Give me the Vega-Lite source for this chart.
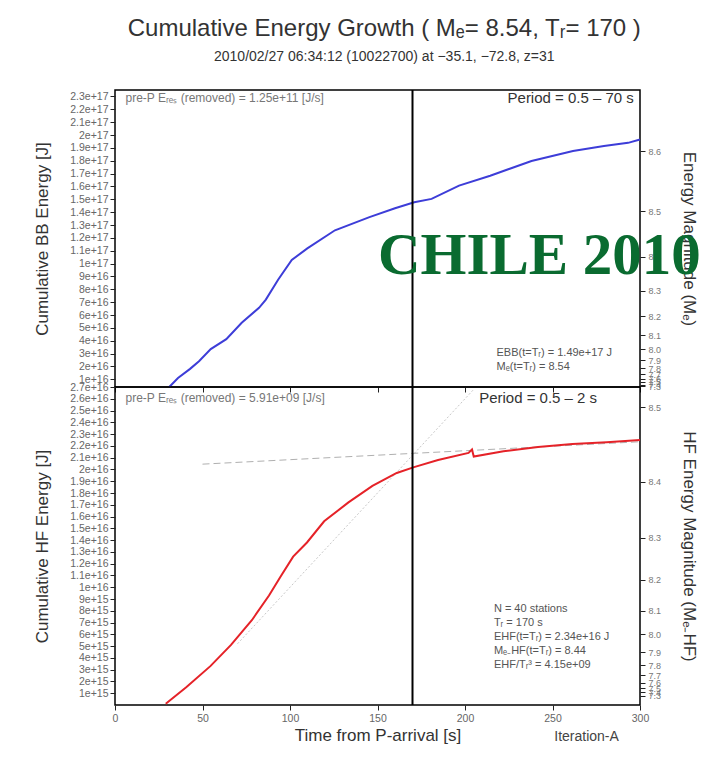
{
  "$schema": "https://vega.github.io/schema/vega-lite/v6.json",
  "padding": {"left": 33, "top": 17, "right": 5, "bottom": 5},
  "background": "white",
  "title": {
    "text": "Cumulative Energy Growth ( Mₑ= 8.54, Tᵣ= 170 )",
    "subtitle": "2010/02/27 06:34:12 (10022700) at −35.1, −72.8, z=31",
    "anchor": "middle",
    "dx": 17,
    "font": "Liberation Sans",
    "fontSize": 24,
    "fontWeight": "normal",
    "color": "#333333",
    "subtitleFont": "Liberation Sans",
    "subtitleFontSize": 14,
    "subtitleColor": "#333333",
    "subtitlePadding": 9,
    "offset": 24
  },
  "datasets": {
    "bb": [
      {"t": 31, "E": 4.0e15},
      {"t": 36, "E": 1.1e16},
      {"t": 42.9, "E": 1.81e16},
      {"t": 48, "E": 2.4e16},
      {"t": 54.7, "E": 3.35e16},
      {"t": 63.6, "E": 4.12e16},
      {"t": 72.4, "E": 5.4e16},
      {"t": 82.3, "E": 6.56e16},
      {"t": 86.2, "E": 7.2e16},
      {"t": 93.2, "E": 8.74e16},
      {"t": 101.0, "E": 1.028e17},
      {"t": 109.9, "E": 1.118e17},
      {"t": 125.7, "E": 1.259e17},
      {"t": 145.4, "E": 1.361e17},
      {"t": 160, "E": 1.43e17},
      {"t": 171.0, "E": 1.477e17},
      {"t": 180.9, "E": 1.503e17},
      {"t": 196.6, "E": 1.606e17},
      {"t": 214.4, "E": 1.683e17},
      {"t": 238.0, "E": 1.798e17},
      {"t": 261.7, "E": 1.875e17},
      {"t": 279.4, "E": 1.914e17},
      {"t": 293.2, "E": 1.939e17},
      {"t": 300, "E": 1.965e17}
    ],
    "hf": [
      {"t": 29, "E": 0.1e15},
      {"t": 40.7, "E": 1.5e15},
      {"t": 54.5, "E": 3.3e15},
      {"t": 66.3, "E": 5.1e15},
      {"t": 78.2, "E": 7.2e15},
      {"t": 88, "E": 9.3e15},
      {"t": 95, "E": 11.0e15},
      {"t": 101.8, "E": 12.6e15},
      {"t": 109.7, "E": 13.8e15},
      {"t": 119.5, "E": 15.6e15},
      {"t": 133.4, "E": 17.2e15},
      {"t": 147.1, "E": 18.6e15},
      {"t": 161, "E": 19.7e15},
      {"t": 170.9, "E": 20.2e15},
      {"t": 184.6, "E": 20.8e15},
      {"t": 202, "E": 21.4e15},
      {"t": 204, "E": 21.7e15},
      {"t": 205, "E": 21.1e15},
      {"t": 222, "E": 21.55e15},
      {"t": 241.7, "E": 21.9e15},
      {"t": 261.4, "E": 22.15e15},
      {"t": 281, "E": 22.3e15},
      {"t": 300, "E": 22.5e15}
    ],
    "hfTrend": [
      {"t": 50, "E": 20.45e15},
      {"t": 300, "E": 22.35e15}
    ],
    "hfDiag": [
      {"t": 70, "E": 5.2e15},
      {"t": 205, "E": 26.8e15}
    ],
    "one": [{}]
  },
  "config": {
    "font": "Liberation Sans",
    "view": {"stroke": "#000000", "strokeWidth": 1.5},
    "axis": {
      "grid": false,
      "domain": false,
      "tickColor": "#222222",
      "tickSize": 5,
      "labelFont": "Liberation Sans",
      "labelFontSize": 10.5,
      "labelColor": "#666666",
      "labelOverlap": false,
      "labelFlush": false,
      "titleFont": "Liberation Sans",
      "titleFontSize": 17,
      "titleFontWeight": "normal",
      "titleColor": "#333333"
    }
  },
  "spacing": 0,
  "bounds": "flush",
  "vconcat": [
    {
      "width": 525,
      "height": 297,
      "resolve": {"axis": {"x": "independent", "y": "independent"}},
      "layer": [
        {
          "data": {"name": "bb"},
          "mark": {"type": "line", "color": "#3d3dd8", "strokeWidth": 2},
          "encoding": {
            "x": {"field": "t", "type": "quantitative",
              "scale": {"domain": [0, 300], "nice": false, "zero": false},
              "axis": {"labels": false, "title": null, "values": [0, 50, 100, 150, 200, 250, 300]}},
            "y": {"field": "E", "type": "quantitative",
              "scale": {"domain": [4e15, 2.35e17], "nice": false, "zero": false},
              "axis": {"orient": "left", "format": "~e", "title": "Cumulative BB Energy [J]", "titlePadding": 18,
                "labelPadding": 2,
                "values": [1e16, 2e16, 3e16, 4e16, 5e16, 6e16, 7e16, 8e16, 9e16, 1e17, 1.1e17, 1.2e17, 1.3e17, 1.4e17, 1.5e17, 1.6e17, 1.7e17, 1.8e17, 1.9e17, 2e17, 2.1e17, 2.2e17, 2.3e17]}}
          }
        },
        {
          "data": {"name": "one"},
          "mark": {"type": "rule", "color": "#000000", "strokeWidth": 2},
          "encoding": {"x": {"datum": 170, "axis": null}}
        },
        {
          "data": {"name": "one"},
          "mark": {"type": "text", "align": "left", "baseline": "middle", "fontSize": 12, "color": "#777777", "text": "pre-P Eᵣₑₛ (removed) = 1.25e+11 [J/s]"},
          "encoding": {"x": {"datum": 6, "axis": null}, "y": {"datum": 2.285e17, "axis": null}}
        },
        {
          "data": {"name": "one"},
          "mark": {"type": "text", "align": "right", "baseline": "middle", "fontSize": 15, "color": "#333333", "text": "Period = 0.5 – 70 s"},
          "encoding": {"x": {"datum": 296.5, "axis": null}, "y": {"datum": 2.285e17, "axis": null}}
        },
        {
          "data": {"name": "one"},
          "mark": {"type": "text", "align": "center", "baseline": "alphabetic", "fontSize": 59, "font": "Liberation Serif", "fontWeight": "bold", "color": "#0a6b30", "text": "CHILE 2010"},
          "encoding": {"x": {"datum": 242.5, "axis": null}, "y": {"datum": 9.2e16, "axis": null}}
        },
        {
          "data": {"name": "one"},
          "mark": {"type": "text", "align": "left", "baseline": "top", "fontSize": 11, "lineHeight": 14, "color": "#555555", "text": ["EBB(t=Tᵣ) = 1.49e+17 J", "Mₑ(t=Tᵣ) = 8.54"]},
          "encoding": {"x": {"datum": 218, "axis": null},
            "y": {"datum": 3.5e16,
              "axis": {"orient": "right", "title": "Energy Magnitude (Mₑ)", "titlePadding": 19, "labelFontSize": 9, "labelColor": "#777777", "labelPadding": 3,
                "values": [1.873e17, 1.405e17, 1.053e17, 7.90e16, 5.92e16, 4.44e16, 3.33e16, 2.50e16, 1.873e16, 1.405e16, 1.053e16, 7.90e15, 5.92e15, 4.44e15],
                "labelExpr": "format(0.8*log(datum.value)/LN10 - 5.218, '.1f')"}}}
        }
      ]
    },
    {
      "width": 525,
      "height": 318,
      "resolve": {"axis": {"x": "independent", "y": "independent"}},
      "layer": [
        {
          "data": {"name": "hfDiag"},
          "mark": {"type": "line", "color": "#c8c8c8", "strokeWidth": 1, "strokeDash": [2, 2]},
          "encoding": {
            "x": {"field": "t", "type": "quantitative", "scale": {"domain": [0, 300], "nice": false, "zero": false}, "axis": null},
            "y": {"field": "E", "type": "quantitative", "scale": {"domain": [0, 2.7e16], "nice": false, "zero": false}, "axis": null}
          }
        },
        {
          "data": {"name": "hfTrend"},
          "mark": {"type": "line", "color": "#b0b0b0", "strokeWidth": 1, "strokeDash": [7, 4]},
          "encoding": {
            "x": {"field": "t", "type": "quantitative", "axis": null},
            "y": {"field": "E", "type": "quantitative", "axis": null}
          }
        },
        {
          "data": {"name": "hf"},
          "mark": {"type": "line", "color": "#e52228", "strokeWidth": 2},
          "encoding": {
            "x": {"field": "t", "type": "quantitative",
              "axis": {"title": "Time from P-arrival [s]", "titlePadding": 4, "values": [0, 50, 100, 150, 200, 250, 300], "labelPadding": 3}},
            "y": {"field": "E", "type": "quantitative",
              "axis": {"orient": "left", "format": "~e", "title": "Cumulative HF Energy [J]", "titlePadding": 18, "labelPadding": 2,
                "values": [1e15, 2e15, 3e15, 4e15, 5e15, 6e15, 7e15, 8e15, 9e15, 1e16, 1.1e16, 1.2e16, 1.3e16, 1.4e16, 1.5e16, 1.6e16, 1.7e16, 1.8e16, 1.9e16, 2e16, 2.1e16, 2.2e16, 2.3e16, 2.4e16, 2.5e16, 2.6e16, 2.7e16]}}
          }
        },
        {
          "data": {"name": "one"},
          "mark": {"type": "rule", "color": "#000000", "strokeWidth": 2},
          "encoding": {"x": {"datum": 170, "axis": null}}
        },
        {
          "data": {"name": "one"},
          "mark": {"type": "text", "align": "left", "baseline": "middle", "fontSize": 12, "color": "#777777", "text": "pre-P Eᵣₑₛ (removed) = 5.91e+09 [J/s]"},
          "encoding": {"x": {"datum": 6, "axis": null}, "y": {"datum": 26.1e15, "axis": null}}
        },
        {
          "data": {"name": "one"},
          "mark": {"type": "text", "align": "right", "baseline": "middle", "fontSize": 15, "color": "#333333", "text": "Period = 0.5 – 2 s"},
          "encoding": {"x": {"datum": 275.5, "axis": null}, "y": {"datum": 26.1e15, "axis": null}}
        },
        {
          "data": {"name": "one"},
          "mark": {"type": "text", "align": "left", "baseline": "middle", "fontSize": 14, "color": "#444444", "text": "Iteration-A"},
          "encoding": {"x": {"datum": 251, "axis": null}, "y": {"datum": -2.75e15, "axis": null}}
        },
        {
          "data": {"name": "one"},
          "mark": {"type": "text", "align": "left", "baseline": "top", "fontSize": 11, "lineHeight": 14, "color": "#555555",
            "text": ["N = 40 stations", "Tᵣ = 170  s", "EHF(t=Tᵣ) = 2.34e+16 J", "Mₑ₋HF(t=Tᵣ) = 8.44", "EHF/Tᵣ³ = 4.15e+09"]},
          "encoding": {"x": {"datum": 216.5, "axis": null},
            "y": {"datum": 8.7e15,
              "axis": {"orient": "right", "title": "HF Energy Magnitude (Mₑ₋HF)", "titlePadding": 19, "labelFontSize": 9, "labelColor": "#777777", "labelPadding": 3,
                "values": [2.526e16, 1.895e16, 1.421e16, 1.065e16, 7.99e15, 5.99e15, 4.49e15, 3.37e15, 2.526e15, 1.895e15, 1.421e15, 1.065e15, 7.99e14],
                "labelExpr": "format(0.8*log(datum.value)/LN10 - 4.622, '.1f')"}}}
        }
      ]
    }
  ]
}
